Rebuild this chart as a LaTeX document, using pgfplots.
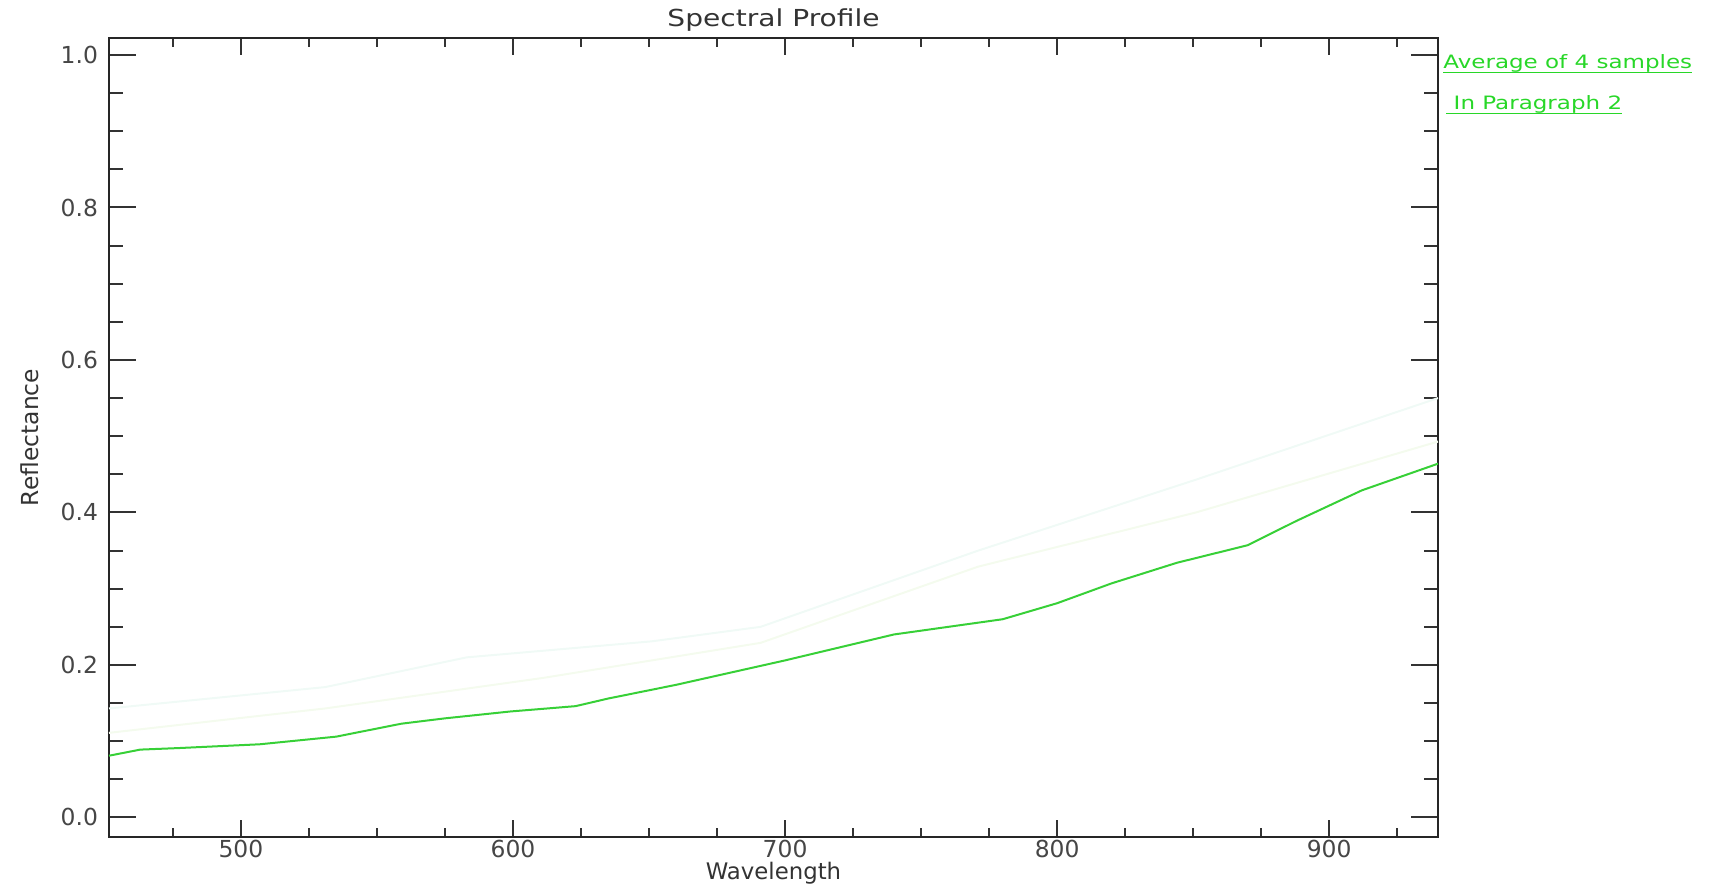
\documentclass[border=0pt]{standalone}
\usepackage{pgfplots}
\pgfplotsset{compat=1.18}
\usepackage{fontspec}
\setmainfont{DejaVu Sans}
\definecolor{lineg}{RGB}{55,208,55}
\definecolor{legg}{RGB}{40,215,40}
\definecolor{faintA}{RGB}{240,250,246}
\definecolor{faintB}{RGB}{244,251,238}
\definecolor{ticklab}{RGB}{70,70,70}
\newcommand\ulbox[1]{\setbox0=\hbox{#1}\rlap{\rule[-2pt]{\wd0}{0.7pt}}\box0}
\begin{document}
\begin{tikzpicture}
\begin{axis}[
  scale only axis, width=664.5pt, height=399.5pt,
  xmin=451.5, xmax=940, ymin=-0.0256, ymax=1.0223,
  axis line style={line width=1pt, black!85},
  xtick={500,600,700,800,900},
  minor xtick={475,525,550,575,625,650,675,725,750,775,825,850,875,925},
  ytick={0,0.2,0.4,0.6,0.8,1.0},
  minor ytick={0.05,0.1,0.15,0.25,0.3,0.35,0.45,0.5,0.55,0.65,0.7,0.75,0.85,0.9,0.95},
  tick style={line width=1pt, black!80},
  xtick style={/pgfplots/major tick length=8.5pt, /pgfplots/minor tick length=4.5pt},
  ytick style={/pgfplots/major tick length=13.5pt, /pgfplots/minor tick length=7pt},
  tick align=inside,
  /pgf/number format/assume math mode=true,
  ticklabel style={font=\fontsize{11.7}{14}\selectfont, color=ticklab},
  yticklabel style={/pgf/number format/.cd, fixed, fixed zerofill, precision=1, /tikz/.cd, xshift=-2pt},
  xticklabel style={/pgf/number format/.cd, fixed, /tikz/.cd, anchor=north, inner sep=0pt, yshift=-1.5pt},
  every axis title shift=0pt,
  title={\scalebox{1.2}[1]{Spectral Profile}},
  title style={at={(axis description cs:0.5,1.0138)}, anchor=base, font=\fontsize{11.7}{14}\selectfont, color=black!80, inner sep=0pt},
  xlabel={Wavelength},
  xlabel style={at={(axis description cs:0.5,-0.0528)}, anchor=base, inner sep=0pt, font=\fontsize{11.4}{14}\selectfont, color=black!80},
  ylabel={Reflectance},
  ylabel style={at={(axis description cs:-0.0594,0.5)}, anchor=center, font=\fontsize{11.7}{14}\selectfont, color=black!80},
  clip=true,
]
% faint individual sample curves
\addplot[color=faintA, line width=1pt] coordinates {
(451.5,0.143) (531,0.171) (583,0.210) (651,0.231) (691,0.250) (771,0.350) (851,0.443) (940,0.550)};
\addplot[color=faintB, line width=1pt] coordinates {
(451.5,0.111) (531,0.143) (611,0.183) (691,0.229) (771,0.329) (851,0.400) (940,0.493)};
% average
\addplot[color=lineg, line width=1pt] coordinates {
(451.5,0.081) (463,0.089) (477,0.091) (507,0.096) (535,0.106) (559,0.123) (575,0.130)
(599,0.139) (623,0.146) (635,0.156) (660,0.174) (700,0.206) (720,0.223) (740,0.240)
(760,0.250) (780,0.260) (800,0.281) (820,0.307) (844,0.334) (870,0.357) (888,0.389)
(912,0.429) (940,0.464)};
\end{axis}
\node[anchor=base west, inner sep=0pt, text=legg, color=legg, font=\fontsize{9.2}{11}\selectfont] at (667pt,384pt) {\ulbox{\scalebox{1.25}[1]{Average of 4 samples}}};
\node[anchor=base west, inner sep=0pt, text=legg, color=legg, font=\fontsize{9.2}{11}\selectfont] at (668.5pt,363.5pt) {\ulbox{\scalebox{1.25}[1]{\ In Paragraph 2}}};
\pgfresetboundingbox
\path (-54.5pt,-24.5pt) rectangle (800pt,418.5pt);
\end{tikzpicture}
\end{document}
